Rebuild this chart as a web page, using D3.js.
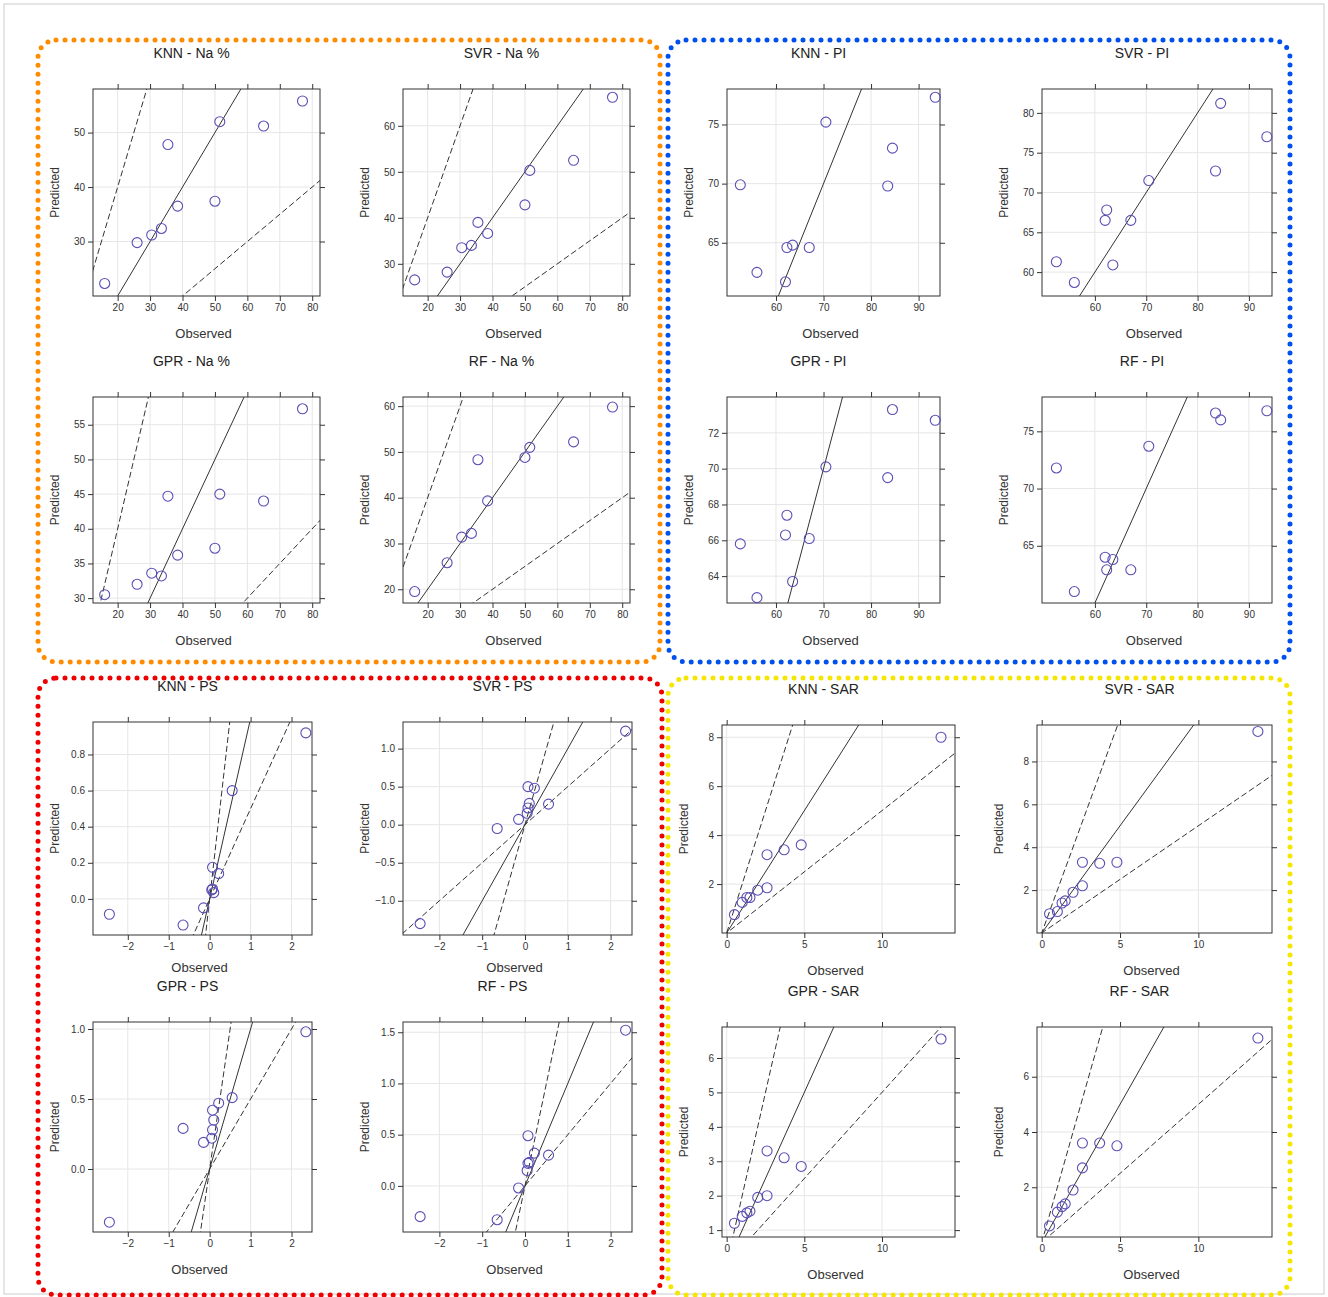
<!DOCTYPE html><html><head><meta charset="utf-8">
<script src="https://cdn.jsdelivr.net/npm/d3@7"></script>
<style>body{margin:0;background:#fff}svg{font-family:"Liberation Sans",Arial,sans-serif}</style></head><body>
<script>
const naObs=[16,26,30.5,33.5,35.5,38.5,50,51.5,65,77];
const piObs=[52.5,56,62,62.3,63.5,67,70.5,83.5,84.5,93.5];
const psObs=[-2.45,-0.65,-0.15,0.05,0.07,0.1,0.07,0.22,0.55,2.35];
const sarObs=[0.5,1,1.3,1.5,2,2.6,2.6,3.7,4.8,13.8];
const knnNa=[22.3,29.8,31.2,32.4,47.8,36.5,37.4,52,51.2,55.8];
const svrNa=[26.5,28.2,33.5,34,39,36.6,42.8,50.3,52.5,66.2];
const gprNa=[30.5,32,33.6,33.2,44.7,36.2,37.2,45,44,57.3];
const rfNa=[19.5,25.8,31.4,32.2,48.3,39.3,48.8,51,52.2,59.8];
const knnPI=[69.9,62.5,61.7,64.6,64.8,64.6,75.2,69.8,73,77.3];
const svrPI=[61.3,58.7,66.5,67.8,60.9,66.5,71.5,72.7,81.2,77];
const gprPI=[65.8,62.8,66.3,67.4,63.7,66.1,70.1,69.5,73.3,72.7];
const rfPI=[71.8,61,64,62.9,63.8,62.9,73.7,76.6,76,76.8];
const knnPS=[-0.085,-0.145,-0.05,0.05,0.055,0.035,0.175,0.14,0.6,0.92];
const svrPS=[-1.3,-0.05,0.07,0.15,0.5,0.28,0.22,0.48,0.27,1.23];
const gprPS=[-0.38,0.29,0.19,0.22,0.42,0.35,0.28,0.47,0.51,0.98];
const rfPS=[-0.3,-0.33,-0.02,0.15,0.49,0.23,0.22,0.32,0.3,1.52];
const knnSAR=[0.75,1.25,1.45,1.45,1.75,1.85,3.2,3.4,3.6,8];
const svrSAR=[0.9,1.0,1.4,1.5,1.9,2.2,3.3,3.25,3.3,9.4];
const gprSAR=[1.2,1.4,1.5,1.55,1.95,2.0,3.3,3.1,2.85,6.55];
const rfSAR=[0.6,1.1,1.3,1.4,1.9,2.7,3.6,3.6,3.5,7.4];
const naX=[12.4,82.4],piX=[49.7,94.5],psX=[-2.85,2.5],sarX=[-0.3,14.7];
const naXt=[20,30,40,50,60,70,80],piXt=[60,70,80,90],psXt=[-2,-1,0,1,2],sarXt=[0,5,10];
const panels=[
 {t:"KNN - Na %",x:naObs,y:knnNa,xd:naX,yd:[20,58],xt:naXt,yt:[30,40,50],b:[93,89,320,296]},
 {t:"SVR - Na %",x:naObs,y:svrNa,xd:naX,yd:[23,68],xt:naXt,yt:[30,40,50,60],b:[403,89,630,296]},
 {t:"GPR - Na %",x:naObs,y:gprNa,xd:naX,yd:[29.3,59],xt:naXt,yt:[30,35,40,45,50,55],b:[93,397,320,603]},
 {t:"RF - Na %",x:naObs,y:rfNa,xd:naX,yd:[17,62],xt:naXt,yt:[20,30,40,50,60],b:[403,397,630,603]},
 {t:"KNN - PI",x:piObs,y:knnPI,xd:piX,yd:[60.5,78],xt:piXt,yt:[65,70,75],b:[727,89,940,296]},
 {t:"SVR - PI",x:piObs,y:svrPI,xd:piX,yd:[57,83],xt:piXt,yt:[60,65,70,75,80],b:[1042,89,1272,296]},
 {t:"GPR - PI",x:piObs,y:gprPI,xd:piX,yd:[62.5,74],xt:piXt,yt:[64,66,68,70,72],b:[727,397,940,603]},
 {t:"RF - PI",x:piObs,y:rfPI,xd:piX,yd:[60,78],xt:piXt,yt:[65,70,75],b:[1042,397,1272,603]},
 {t:"KNN - PS",x:psObs,y:knnPS,xd:psX,yd:[-0.2,0.98],xt:psXt,yt:[0,0.2,0.4,0.6,0.8],b:[93,722,312,935],f:".1f",o:33},
 {t:"SVR - PS",x:psObs,y:svrPS,xd:psX,yd:[-1.45,1.35],xt:psXt,yt:[-1,-0.5,0,0.5,1],b:[403,722,632,935],f:".1f",o:33},
 {t:"GPR - PS",x:psObs,y:gprPS,xd:psX,yd:[-0.45,1.05],xt:psXt,yt:[0,0.5,1],b:[93,1022,312,1232],f:".1f"},
 {t:"RF - PS",x:psObs,y:rfPS,xd:psX,yd:[-0.45,1.6],xt:psXt,yt:[0,0.5,1,1.5],b:[403,1022,632,1232],f:".1f"},
 {t:"KNN - SAR",x:sarObs,y:knnSAR,xd:sarX,yd:[0,8.5],xt:sarXt,yt:[2,4,6,8],b:[722,725,955,933]},
 {t:"SVR - SAR",x:sarObs,y:svrSAR,xd:sarX,yd:[0,9.7],xt:sarXt,yt:[2,4,6,8],b:[1037,725,1272,933]},
 {t:"GPR - SAR",x:sarObs,y:gprSAR,xd:sarX,yd:[0.8,6.9],xt:sarXt,yt:[1,2,3,4,5,6],b:[722,1027,955,1237]},
 {t:"RF - SAR",x:sarObs,y:rfSAR,xd:sarX,yd:[0.2,7.8],xt:sarXt,yt:[2,4,6],b:[1037,1027,1272,1237]}
];
const groups=[[38,40,660,662,"#ff8c00"],[668,40,1290,662,"#0050ee"],[38,678,662,1295,"#ee0000"],[668,678,1290,1295,"#f5e600"]];
const svg=d3.select("body").append("svg").attr("width",1328).attr("height",1297);
svg.append("rect").attr("x",4).attr("y",4).attr("width",1320).attr("height",1290).attr("fill","none").attr("stroke","#ccc");
groups.forEach(g=>svg.append("rect").attr("x",g[0]).attr("y",g[1]).attr("width",g[2]-g[0]).attr("height",g[3]-g[1]).attr("rx",18)
 .attr("fill","none").attr("stroke",g[4]).attr("stroke-width",5).attr("stroke-dasharray","0 9").attr("stroke-linecap","round"));
panels.forEach((p,i)=>{
 const [x0,y0,x1,y1]=p.b;
 const x=d3.scaleLinear().domain(p.xd).range([x0,x1]);
 const y=d3.scaleLinear().domain(p.yd).range([y1,y0]);
 const g=svg.append("g");
 const cid="c"+i;
 g.append("clipPath").attr("id",cid).append("rect").attr("x",x0).attr("y",y0).attr("width",x1-x0).attr("height",y1-y0);
 p.xt.forEach(v=>g.append("line").attr("x1",x(v)).attr("x2",x(v)).attr("y1",y0).attr("y2",y1).attr("stroke","#e6e6e6"));
 p.yt.forEach(v=>g.append("line").attr("y1",y(v)).attr("y2",y(v)).attr("x1",x0).attr("x2",x1).attr("stroke","#e6e6e6"));
 const fmt=p.f?d3.format(p.f):d3.format("d");
 const ax=(a,tr)=>g.append("g").attr("transform",tr).call(a).call(s=>{s.select(".domain").remove();s.selectAll("line").attr("stroke","#333");s.selectAll("text").attr("font-size",10).attr("fill","#333")});
 ax(d3.axisBottom(x).tickValues(p.xt).tickSize(5).tickFormat(d3.format("d")),`translate(0,${y1})`);
 ax(d3.axisTop(x).tickValues(p.xt).tickSize(5).tickFormat(""),`translate(0,${y0})`);
 ax(d3.axisLeft(y).tickValues(p.yt).tickSize(5).tickFormat(fmt),`translate(${x0},0)`);
 ax(d3.axisRight(y).tickValues(p.yt).tickSize(5).tickFormat(""),`translate(${x1},0)`);
 const lg=g.append("g").attr("clip-path",`url(#${cid})`);
 const lo=Math.min(p.xd[0],p.yd[0])-50,hi=Math.max(p.xd[1],p.yd[1])+50;
 [[1,null],[2,"6,3"],[0.5,"6,3"]].forEach(([k,d])=>lg.append("line").attr("x1",x(lo)).attr("y1",y(k*lo)).attr("x2",x(hi)).attr("y2",y(k*hi))
   .attr("stroke","#333").attr("stroke-width",1).attr("stroke-dasharray",d));
 g.append("rect").attr("x",x0).attr("y",y0).attr("width",x1-x0).attr("height",y1-y0).attr("fill","none").attr("stroke","#333");
 g.selectAll("circle.p").data(p.x).join("circle").attr("cx",d=>x(d)).attr("cy",(d,j)=>y(p.y[j])).attr("r",5)
   .attr("fill","none").attr("stroke","#5a4fb5").attr("stroke-width",1.1);
 const cx=(x0+x1)/2-15;
 g.append("text").attr("x",cx).attr("y",y0-31).attr("text-anchor","middle").attr("font-size",14).attr("fill","#222").text(p.t);
 g.append("text").attr("x",(x0+x1)/2-3).attr("y",y1+(p.o||38)+4).attr("text-anchor","middle").attr("font-size",13).attr("fill","#333").text("Observed");
 g.append("text").attr("transform",`translate(${x0-34},${(y0+y1)/2}) rotate(-90)`).attr("text-anchor","middle").attr("font-size",12).attr("fill","#333").text("Predicted");
});
</script></body></html>
